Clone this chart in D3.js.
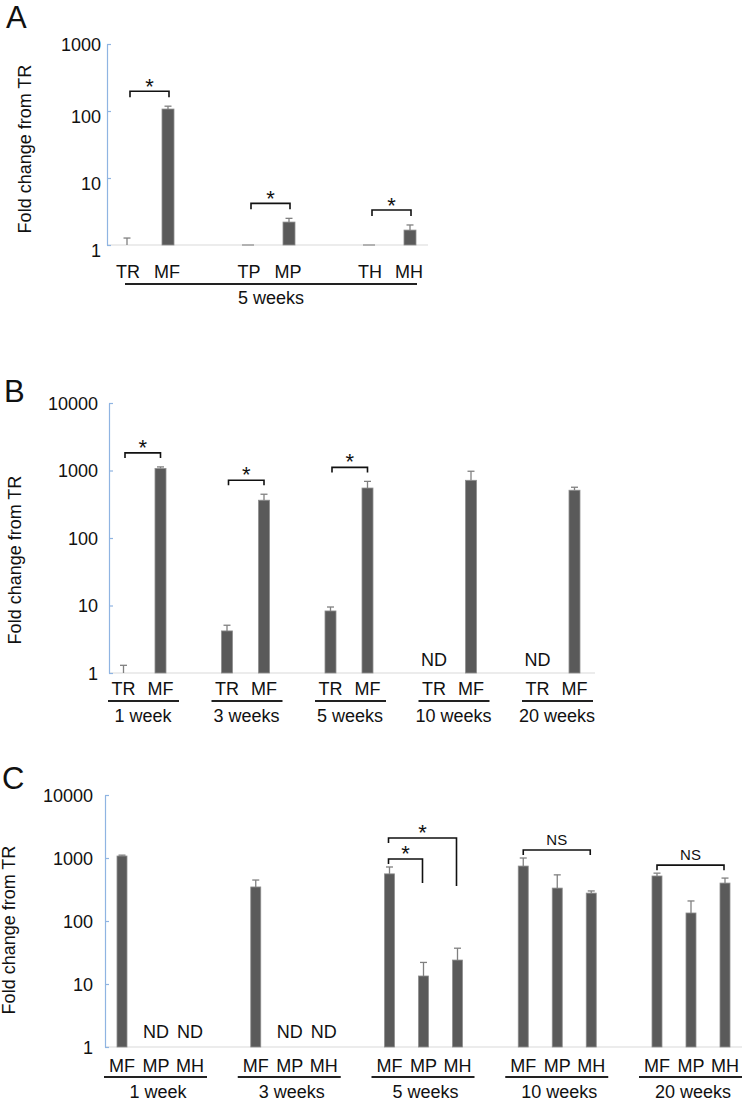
<!DOCTYPE html>
<html><head><meta charset="utf-8">
<script src="https://cdn.jsdelivr.net/npm/d3@7"></script>
<style>
body{margin:0;background:#fff}
svg{display:block}
text{font-family:"Liberation Sans",Arial,sans-serif;fill:#111}
</style>
</head><body>
<svg id="chart" width="745" height="1101"></svg>
<script>
// ---------- Panel A data (5 weeks) ----------
const aPairs = ["F", "P", "H"];
const aCats = [["TR", "MF"], ["TP", "MP"], ["TH", "MH"]];
const aMean = [[1, 107], [1, 2.2], [1, 1.67]];
const aErr  = [[0.27, 11], [0, 0.3], [0, 0.32]];
const aTicks = [1, 10, 100, 1000];
const aGroupLabel = "5 weeks";

// ---------- Panel B data ----------
const weeks = ["1 week", "3 weeks", "5 weeks", "10 weeks", "20 weeks"];
const bCats = ["TR", "MF"];
const bTR    = [1, 4.2, 8.3, null, null];
const bTRerr = [0.3, 0.9, 1.2, null, null];
const bMF    = [1070, 363, 550, 716, 510];
const bMFerr = [60, 82, 140, 259, 55];
const bTicks = [1, 10, 100, 1000, 10000];
const bSig = [true, true, true, false, false];

// ---------- Panel C data ----------
const cCats = ["MF", "MP", "MH"];
const cMF    = [1075, 347, 560, 745, 518];
const cMFerr = [35, 100, 160, 255, 57];
const cMP    = [null, null, 13.4, 333, 134];
const cMPerr = [null, null, 8.6, 207, 74];
const cMH    = [null, null, 24, 277, 400];
const cMHerr = [null, null, 13, 23, 80];
const cTicks = [1, 10, 100, 1000, 10000];

const svg = d3.select("#chart");
const BAR = "#5a5a5a", BAR_STROKE = "#8e8e8e", ERR = "#808080", AXIS = "#8fb4e2", BASE = "#d9d9d9";

function yAxis(g, y, ticks, x0, pad, shiftLower) {
  const ax = g.append("g").attr("transform", `translate(${x0},0)`)
    .call(d3.axisLeft(y).tickValues(ticks).tickFormat(d3.format("d"))
      .tickSizeInner(-4).tickSizeOuter(0).tickPadding(pad));
  ax.select(".domain").attr("stroke", AXIS).attr("stroke-width", 1.2);
  ax.selectAll(".tick line").attr("stroke", AXIS).attr("stroke-width", 1.2);
  ax.selectAll(".tick text").attr("font-size", 18).attr("fill", "#111")
    .attr("font-family", '"Liberation Sans",Arial,sans-serif')
    .attr("dy", (d, i) => (shiftLower && d !== ticks[ticks.length - 1]) ? "0.65em" : "0.34em");
}
function baseline(g, y, x0, x1) {
  g.append("line").attr("x1", x0).attr("x2", x1).attr("y1", y(1)).attr("y2", y(1))
    .attr("stroke", BASE).attr("stroke-width", 1.2);
}
function bars(g, items, y, w) {
  const it = items.filter(d => d.v != null);
  const drawn = it.filter(d => d.bar !== false);
  g.selectAll(null).data(drawn.filter(d => d.v > 1)).join("rect")
    .attr("x", d => d.x - w / 2).attr("width", w)
    .attr("y", d => y(d.v)).attr("height", d => y(1) - y(d.v))
    .attr("fill", BAR).attr("stroke", BAR_STROKE).attr("stroke-width", 0.8);
  // zero-height bars (value 1) show as a flat grey line on the baseline
  g.selectAll(null).data(drawn.filter(d => d.v <= 1)).join("line")
    .attr("x1", d => d.x - w / 2).attr("x2", d => d.x + w / 2)
    .attr("y1", d => y(d.v)).attr("y2", d => y(d.v))
    .attr("stroke", "#9a9a9a").attr("stroke-width", 1.4);
  const e = it.filter(d => d.e > 0);
  g.selectAll(null).data(e).join("line")
    .attr("x1", d => d.x).attr("x2", d => d.x)
    .attr("y1", d => y(d.v)).attr("y2", d => y(d.v + d.e))
    .attr("stroke", ERR).attr("stroke-width", 1.3);
  g.selectAll(null).data(e).join("line")
    .attr("x1", d => d.x - 3.5).attr("x2", d => d.x + 3.5)
    .attr("y1", d => y(d.v + d.e)).attr("y2", d => y(d.v + d.e))
    .attr("stroke", ERR).attr("stroke-width", 1.3);
}
function bracket(g, x1, x2, yTop, dropL, dropR, label, starDy, isNS) {
  g.append("path")
    .attr("d", `M${x1},${yTop + dropL}V${yTop}H${x2}V${yTop + dropR}`)
    .attr("fill", "none").attr("stroke", "#111").attr("stroke-width", 1.6);
  const t = g.append("text").attr("x", (x1 + x2) / 2).attr("y", yTop + starDy)
    .attr("text-anchor", "middle").text(label);
  if (isNS) t.attr("font-size", 15).attr("font-family", '"Open Sans","Noto Sans",sans-serif');
  else t.attr("font-size", 22).attr("fill", "#444");
}
function title(g, x, y, s) {
  g.append("text").attr("transform", `translate(${x},${y}) rotate(-90)`)
    .attr("text-anchor", "middle").attr("font-size", 18).text(s);
}
function letter(g, x, y, s) {
  g.append("text").attr("x", x).attr("y", y).attr("font-size", 31).text(s);
}
function catLabel(g, x, yb, s) {
  g.append("text").attr("x", x).attr("y", yb).attr("text-anchor", "middle").attr("font-size", 18).text(s);
}
function groupLine(g, x1, x2, yy) {
  g.append("line").attr("x1", x1).attr("x2", x2).attr("y1", yy).attr("y2", yy)
    .attr("stroke", "#222").attr("stroke-width", 1.8);
}

// ================= Panel A =================
{
  const g = svg.append("g");
  const y = d3.scaleLog().domain([1, 1000]).range([245, 44]);
  const gx = d3.scalePoint().domain(aPairs).range([147.5, 389.5]);
  const off = 20.5;
  letter(g, 6, 28, "A");
  title(g, 31, 149, "Fold change from TR");
  baseline(g, y, 107, 428);
  yAxis(g, y, aTicks, 107, 6, true);
  const items = [];
  aPairs.forEach((p, i) => {
    [0, 1].forEach(j => items.push({x: gx(p) + (j ? off : -off), v: aMean[i][j], e: aErr[i][j], bar: !(i === 0 && j === 0)}));
  });
  bars(g, items, y, 12);
  aPairs.forEach((p, i) => {
    const xl = gx(p) - off, xr = gx(p) + off;
    bracket(g, xl + 3, xr + 1, y(aMean[i][1] + aErr[i][1]) - 15, 6, 6, "*", 3, false);
    catLabel(g, xl + 1, 278, aCats[i][0]);
    catLabel(g, xr - 1, 278, aCats[i][1]);
  });
  groupLine(g, 125, 417, 284);
  catLabel(g, 271, 304, aGroupLabel);
}

// ================= Panel B =================
{
  const g = svg.append("g");
  const y = d3.scaleLog().domain([1, 10000]).range([673, 403]);
  const gx = d3.scalePoint().domain(weeks).range([142, 556]);
  const off = 18.5;
  letter(g, 4, 402, "B");
  title(g, 21, 560, "Fold change from TR");
  baseline(g, y, 109, 595);
  yAxis(g, y, bTicks, 109, 11, false);
  const items = [];
  weeks.forEach((w, i) => {
    items.push({x: gx(w) - off, v: bTR[i], e: bTRerr[i], bar: i !== 0});
    items.push({x: gx(w) + off, v: bMF[i], e: bMFerr[i]});
  });
  bars(g, items, y, 11);
  weeks.forEach((w, i) => {
    const xl = gx(w) - off, xr = gx(w) + off;
    if (bTR[i] == null) catLabel(g, xl, 666, "ND");
    if (bSig[i]) bracket(g, xl + 1.5, xr, y(bMF[i] + bMFerr[i]) - 14, 5, 5, "*", 2, false);
    catLabel(g, xl, 695, bCats[0]);
    catLabel(g, xr, 695, bCats[1]);
    groupLine(g, gx(w) - 34, gx(w) + 37, 701);
    catLabel(g, gx(w) + 1, 722, w);
  });
}

// ================= Panel C =================
{
  const g = svg.append("g");
  const y = d3.scaleLog().domain([1, 10000]).range([1047, 795]);
  const gx = d3.scalePoint().domain(weeks).range([156, 691]);
  const off = 34;
  const series = [[cMF, cMFerr], [cMP, cMPerr], [cMH, cMHerr]];
  letter(g, 2, 789, "C");
  title(g, 15, 930, "Fold change from TR");
  baseline(g, y, 105, 742);
  yAxis(g, y, cTicks, 105, 12, false);
  const items = [];
  weeks.forEach((w, i) => {
    series.forEach((s, j) => items.push({x: gx(w) + (j - 1) * off, v: s[0][i], e: s[1][i]}));
  });
  bars(g, items, y, 10);
  weeks.forEach((w, i) => {
    cCats.forEach((c, j) => {
      const xc = gx(w) + (j - 1) * off;
      if (series[j][0][i] == null) catLabel(g, xc, 1038, "ND");
      catLabel(g, xc, 1072, c);
    });
    groupLine(g, gx(w) - 52, gx(w) + 51, 1077);
    catLabel(g, gx(w) + 2, 1098, w);
  });
  // 5 weeks: MF vs MP, MF vs MH
  {
    const w = weeks[2];
    const xMF = gx(w) - off, xMP = gx(w), xMH = gx(w) + off;
    const yIn = y(cMF[2] + cMFerr[2]) - 8;
    bracket(g, xMF - 1, xMP - 1, yIn, 5, 24, "*", 2, false);
    bracket(g, xMF - 1, xMH - 1, yIn - 21, 5, 48, "*", 2, false);
  }
  // 10 and 20 weeks: NS
  [3, 4].forEach(i => {
    const w = weeks[i];
    bracket(g, gx(w) - off, gx(w) + off - 1, y(cMF[i] + cMFerr[i]) - 8, 5, 5, "NS", -5, true);
  });
}
</script>
</body></html>
